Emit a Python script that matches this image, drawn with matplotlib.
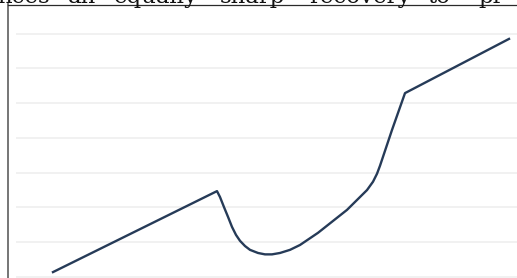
import matplotlib.pyplot as plt

# words of the cut-off paragraph above the chart, with their left edge (px)
words = ["nces", "an", "equally", "sharp", "recovery", "to", "pr"]
word_x = [-3, 68, 114, 220, 309, 427, 478]

# line (x in px across the chart, y in gridline units)
xs = [53, 217, 220, 224, 228, 232, 236, 240, 245, 250, 258, 265, 272, 280, 290, 300, 318,
      347, 367, 373, 377, 380, 392, 405, 509]
ys = [0.14, 2.47, 2.30, 2.01, 1.73, 1.44, 1.21, 1.04, 0.89, 0.78, 0.69, 0.65, 0.65, 0.69, 0.78, 0.92, 1.27,
      1.93, 2.50, 2.74, 2.97, 3.20, 4.23, 5.29, 6.85]
grid_y = [0, 1, 2, 3, 4, 5, 6, 7]

fig = plt.figure(figsize=(5.17, 2.78), dpi=100)
ax = fig.add_axes([8 / 517, 0, 509 / 517, 273.5 / 278])
ax.set_xlim(8, 517)
ax.set_ylim(-0.03, 7.84)

ax.hlines(grid_y, 16, 517, color="#ededed", lw=1.1, zorder=1)
ax.plot(xs, ys, color="#263b58", lw=1.7, zorder=3, solid_joinstyle="round")

for s in ["right", "bottom"]:
    ax.spines[s].set_visible(False)
ax.spines["left"].set_color("#6a6a6a")
ax.spines["left"].set_linewidth(1.3)
ax.spines["top"].set_color("#2a2a2a")
ax.spines["top"].set_linewidth(0.9)
ax.set_xticks([])
ax.set_yticks([])

for w, x in zip(words, word_x):
    fig.text(x / 517, 1 - 3 / 278, w, family="DejaVu Serif", fontsize=16.5,
             ha="left", va="baseline", color="#111111")

fig.savefig("out.png", dpi=100)
